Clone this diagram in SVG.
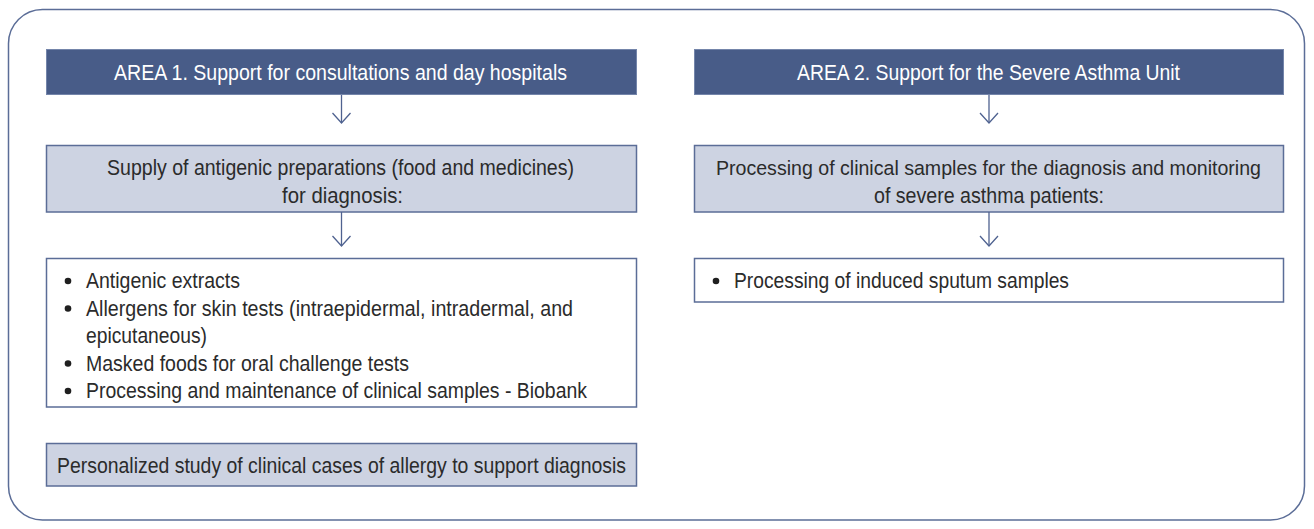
<svg xmlns="http://www.w3.org/2000/svg" width="1314" height="529" viewBox="0 0 1314 529">
<style>
.frame{fill:#ffffff;stroke:#5b6d97;stroke-width:1.5}
.hdr{fill:#485c88;stroke:#7485aa;stroke-width:1}
.sub{fill:#cdd3e2;stroke:#5b6d97;stroke-width:1.5}
.lst{fill:#ffffff;stroke:#5b6d97;stroke-width:1.5}
.t{font-family:"Liberation Sans",Arial,sans-serif;font-size:22px;fill:#2b2b2b}
.th{font-family:"Liberation Sans",Arial,sans-serif;font-size:22px;fill:#ffffff}
.dot{fill:#1f1f1f}
.conn line,.conn polyline{stroke:#4f6290;stroke-width:1.3;fill:none}
</style>
<rect class="frame" x="8.5" y="9.5" width="1296" height="510.5" rx="34" ry="34"/>
<g id="area1-header">
<rect class="hdr" x="46.5" y="49.5" width="590" height="45"/>
<text class="th" x="114" y="79.5" textLength="453" lengthAdjust="spacingAndGlyphs">AREA 1. Support for consultations and day hospitals</text>
</g>
<g id="area1-supply">
<rect class="sub" x="46.5" y="145.5" width="590" height="66.5"/>
<text class="t" x="107" y="175" textLength="467" lengthAdjust="spacingAndGlyphs">Supply of antigenic preparations (food and medicines)</text>
<text class="t" x="282" y="203" textLength="121" lengthAdjust="spacingAndGlyphs">for diagnosis:</text>
</g>
<g id="area1-list">
<rect class="lst" x="46.5" y="258.5" width="590" height="148.5"/>
<circle class="dot" cx="68" cy="281" r="3.3"/>
<text class="t" x="86" y="288" textLength="154" lengthAdjust="spacingAndGlyphs">Antigenic extracts</text>
<circle class="dot" cx="68" cy="308.5" r="3.3"/>
<text class="t" x="86" y="315.5" textLength="487" lengthAdjust="spacingAndGlyphs">Allergens for skin tests (intraepidermal, intradermal, and</text>
<text class="t" x="86" y="343" textLength="121" lengthAdjust="spacingAndGlyphs">epicutaneous)</text>
<circle class="dot" cx="68" cy="363.5" r="3.3"/>
<text class="t" x="86" y="370.5" textLength="323" lengthAdjust="spacingAndGlyphs">Masked foods for oral challenge tests</text>
<circle class="dot" cx="68" cy="391" r="3.3"/>
<text class="t" x="86" y="398" textLength="501" lengthAdjust="spacingAndGlyphs">Processing and maintenance of clinical samples - Biobank</text>
</g>
<g id="area1-personalized">
<rect class="sub" x="46.5" y="443.5" width="590" height="42.5"/>
<text class="t" x="57" y="473" textLength="569" lengthAdjust="spacingAndGlyphs">Personalized study of clinical cases of allergy to support diagnosis</text>
</g>
<g id="area2-header">
<rect class="hdr" x="694.5" y="49.5" width="589" height="45"/>
<text class="th" x="797" y="79.5" textLength="383" lengthAdjust="spacingAndGlyphs">AREA 2. Support for the Severe Asthma Unit</text>
</g>
<g id="area2-processing">
<rect class="sub" x="694.5" y="145.5" width="589" height="66.5"/>
<text class="t" x="716" y="175" textLength="545" lengthAdjust="spacingAndGlyphs" style="font-size:20.5px">Processing of clinical samples for the diagnosis and monitoring</text>
<text class="t" x="874" y="203" textLength="230" lengthAdjust="spacingAndGlyphs">of severe asthma patients:</text>
</g>
<g id="area2-list">
<rect class="lst" x="694.5" y="258.5" width="589" height="43.5"/>
<circle class="dot" cx="716" cy="281" r="3.3"/>
<text class="t" x="734" y="288" textLength="335" lengthAdjust="spacingAndGlyphs">Processing of induced sputum samples</text>
</g>
<g class="conn" id="connectors">
<line x1="341.5" y1="95" x2="341.5" y2="123"/>
<polyline points="332.5,113 341.5,123 350.5,113"/>
<line x1="341.5" y1="212" x2="341.5" y2="246"/>
<polyline points="332.5,236 341.5,246 350.5,236"/>
<line x1="989" y1="95" x2="989" y2="123"/>
<polyline points="980,113 989,123 998,113"/>
<line x1="989" y1="212" x2="989" y2="246"/>
<polyline points="980,236 989,246 998,236"/>
</g>
</svg>
